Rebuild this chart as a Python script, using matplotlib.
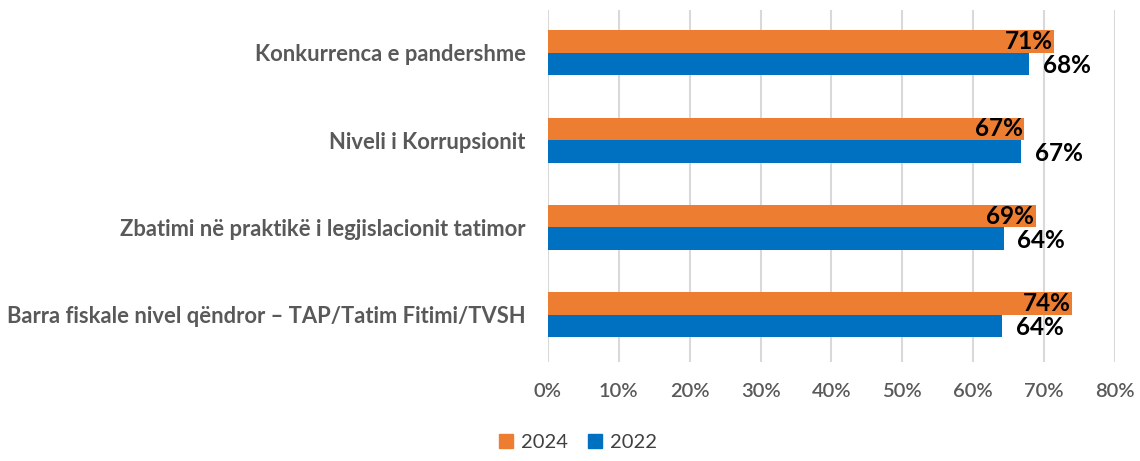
import matplotlib
matplotlib.use("Agg")
import matplotlib.pyplot as plt
import numpy as np
from matplotlib.patches import Patch

categories = [
    "Konkurrenca e pandershme",
    "Niveli i Korrupsionit",
    "Zbatimi në praktikë i legjislacionit tatimor",
    "Barra fiskale nivel qëndror – TAP/Tatim Fitimi/TVSH",
]
values_2024 = [71.4, 67.2, 68.8, 74.0]
values_2022 = [67.9, 66.8, 64.3, 64.1]
labels_2024 = ["71%", "67%", "69%", "74%"]
labels_2022 = ["68%", "67%", "64%", "64%"]
series_names = ["2024", "2022"]
xticks = [0, 10, 20, 30, 40, 50, 60, 70, 80]

c_2024 = "#ED7D31"
c_2022 = "#0070C0"
FONT = ["Lato", "DejaVu Sans"]
plt.rcParams["font.family"] = FONT

fig = plt.figure(figsize=(11.4, 4.61), dpi=100)
ax = fig.add_axes([0.4807, 0.215, 0.978 - 0.4807, 0.978 - 0.215])

n = len(categories)
y = np.arange(n)[::-1]
h = 0.257

ax.barh(y + h / 2, values_2024, height=h, color=c_2024, zorder=3)
ax.barh(y - h / 2, values_2022, height=h, color=c_2022, zorder=3)

for yi, v, t in zip(y, values_2024, labels_2024):
    ax.text(v - 0.2, yi + h / 2, t, ha="right", va="center", fontsize=17.5,
            fontweight="bold", color="black", zorder=4)
for yi, v, t in zip(y, values_2022, labels_2022):
    ax.text(v + 1.9, yi - h / 2 - 0.02, t, ha="left", va="center", fontsize=17.5,
            fontweight="bold", color="black", zorder=4)

ax.set_xlim(0, 80)
ax.set_ylim(-0.54, 3.49)
ax.set_xticks(xticks)
ax.set_xticklabels([f"{t}%" for t in xticks], fontsize=14.5, color="#595959",
                   fontweight="semibold")
ax.set_yticks(y)
ax.set_yticklabels(categories, fontsize=15.8, color="#595959", fontweight="bold")
ax.tick_params(axis="both", length=0)
ax.tick_params(axis="x", pad=15)
ax.tick_params(axis="y", pad=16)
for s in ax.spines.values():
    s.set_visible(False)
ax.xaxis.grid(True, color="#D9D9D9", linewidth=1.5, zorder=0)
ax.set_axisbelow(True)

handles = [Patch(color=c_2024), Patch(color=c_2022)]
fig.legend(handles, series_names, loc="center", bbox_to_anchor=(0.507, 0.04),
           ncol=2, frameon=False, fontsize=14.5, handlelength=0.7, handleheight=0.7,
           handletextpad=0.4, columnspacing=1.0, labelcolor="#404040")

fig.savefig("out.png", dpi=100)
